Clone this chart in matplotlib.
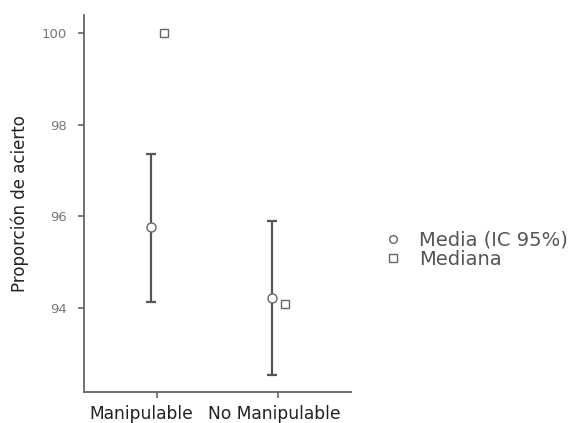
import matplotlib
matplotlib.use("Agg")
import matplotlib.pyplot as plt
import matplotlib.transforms as mtransforms
import numpy as np

categories = ["Manipulable", "No Manipulable"]
means = [95.76, 94.22]
ci_low = [94.13, 92.54]
ci_high = [97.37, 95.89]
medians = [100.0, 94.09]
yticks = [94, 96, 98, 100]

fig = plt.figure(figsize=(5.79, 4.23), dpi=100)
ax = fig.add_axes([0.145, 0.0733, 0.461, 0.8912])

x = np.arange(1, len(categories) + 1)
line_col = "#555555"
means_arr = np.array(means)
yerr = [means_arr - np.array(ci_low), np.array(ci_high) - means_arr]
ax.errorbar(x - 0.045, means, yerr=yerr, fmt="none", ecolor=line_col,
            elinewidth=1.6, capsize=3.6, capthick=1.6, zorder=2)
ax.plot(x - 0.045, means, "o", ms=6.5, mfc="white", mec="#666666", mew=1.0,
        linestyle="none", zorder=3, label="Media (IC 95%)")
ax.plot(x + 0.055, medians, "s", ms=6, mfc="white", mec="#666666", mew=1.0,
        linestyle="none", zorder=3, label="Mediana")

ax.set_xlim(0.397, 2.603)
ax.set_ylim(92.17, 100.39)
ax.set_xticks(x)
ax.set_xticklabels([])
ax.set_yticks(yticks)
ax.set_yticklabels([str(t) for t in yticks], fontsize=9.5, color="#777777")
ax.set_ylabel("Proporción de acierto", fontsize=12, color="#222222")
ax.yaxis.set_label_coords(-0.205, 0.5)

# category labels, placed slightly left of their ticks as in the reference
label_shift = [-0.128, -0.033]
trans = mtransforms.blended_transform_factory(ax.transData, ax.transAxes)
for xi, name, dx in zip(x, categories, label_shift):
    ax.text(xi + dx, -0.035, name, transform=trans, ha="center", va="top",
            fontsize=12.3, color="#222222", clip_on=False)

for s in ["top", "right"]:
    ax.spines[s].set_visible(False)
for s in ["left", "bottom"]:
    ax.spines[s].set_color("#666666")
    ax.spines[s].set_linewidth(1.3)
ax.tick_params(axis="both", colors="#666666", length=4, width=1.2)
ax.tick_params(axis="y", labelcolor="#777777", pad=8)

fig.legend(loc="center left", bbox_to_anchor=(0.6615, 0.409), frameon=False,
           fontsize=14, handletextpad=0.85, labelspacing=0.02,
           borderpad=0, borderaxespad=0, markerscale=0.85,
           labelcolor="#555555", handlelength=1.0)

fig.savefig("out.png", dpi=100)
